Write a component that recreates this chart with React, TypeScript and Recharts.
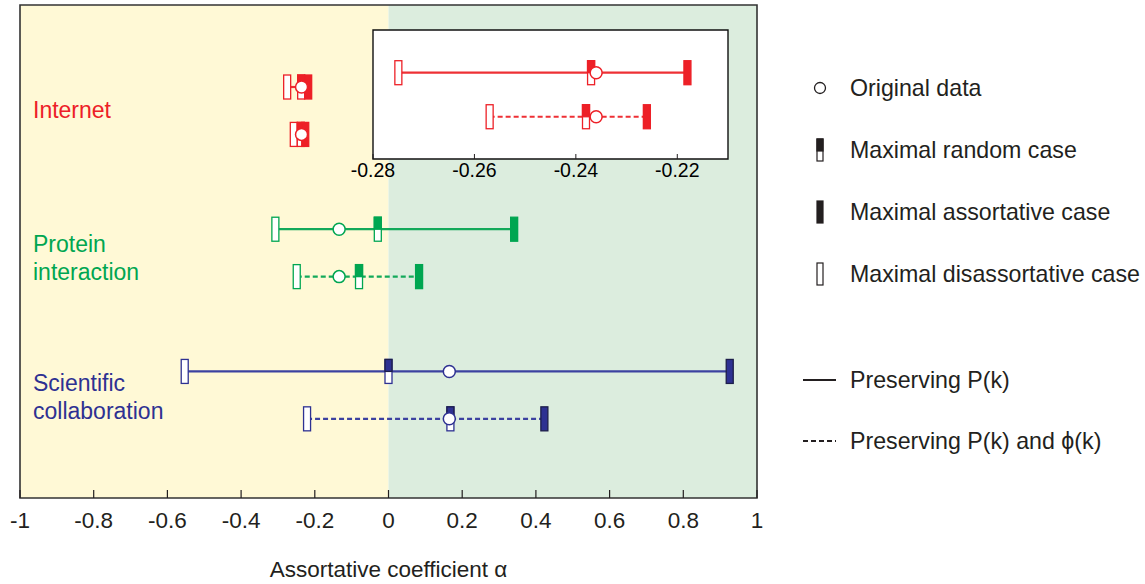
import React from "react";
import {
  ComposedChart,
  Scatter,
  XAxis,
  YAxis,
  ReferenceArea,
  Legend,
  Label,
} from "recharts";

const networks = ["Internet", "Protein interaction", "Scientific collaboration"];

// original assortative coefficient of each network
const originalAlpha = [-0.236, -0.134, 0.165];

// preserving P(k)
const pkDisassortative = [-0.275, -0.307, -0.553];
const pkRandom = [-0.237, -0.029, 0.0];
const pkAssortative = [-0.218, 0.341, 0.926];

// preserving P(k) and phi(k)
const pkPhiDisassortative = [-0.257, -0.249, -0.221];
const pkPhiRandom = [-0.238, -0.08, 0.168];
const pkPhiAssortative = [-0.226, 0.083, 0.423];

const alphaTicks = [-1, -0.8, -0.6, -0.4, -0.2, 0, 0.2, 0.4, 0.6, 0.8, 1];
const insetTicks = [-0.28, -0.26, -0.24, -0.22];

const markerLegend = [
  "Original data",
  "Maximal random case",
  "Maximal assortative case",
  "Maximal disassortative case",
];
const lineLegend = ["Preserving P(k)", "Preserving P(k) and \u03d5(k)"];
const axisTitle = "Assortative coefficient \u03b1";

const netColors = ["#ed2027", "#00a651", "#2e3192"];
const netEdges = ["#ed2027", "#00a651", "#1d1e4a"];
const netLines = ["#ee3035", "#13a95a", "#3c42a0"];

const FONT = "'Liberation Sans', Arial, Helvetica, sans-serif";
const INK = "#231f20";

type Pt = { x: number; y: number; net: number };

// row position: solid row first, dashed row below, groups 3 units apart
const rowY = (net: number, dashed: boolean) => net * 3 + (dashed ? 2 : 1);

const collect = (vals: number[], dashed: boolean, nets: number[]): Pt[] =>
  nets.map((n) => ({ x: vals[n], y: rowY(n, dashed), net: n }));

const buildRows = (nets: number[]) => {
  const lines: { data: Pt[]; net: number; dashed: boolean }[] = [];
  nets.forEach((n) => {
    [false, true].forEach((dashed) => {
      const vals = dashed
        ? [pkPhiDisassortative[n], pkPhiRandom[n], pkPhiAssortative[n], originalAlpha[n]]
        : [pkDisassortative[n], pkRandom[n], pkAssortative[n], originalAlpha[n]];
      const data = vals
        .slice()
        .sort((a, b) => a - b)
        .map((x) => ({ x, y: rowY(n, dashed), net: n }));
      lines.push({ data, net: n, dashed });
    });
  });
  return {
    lines,
    dis: [...collect(pkDisassortative, false, nets), ...collect(pkPhiDisassortative, true, nets)],
    rand: [...collect(pkRandom, false, nets), ...collect(pkPhiRandom, true, nets)],
    ass: [...collect(pkAssortative, false, nets), ...collect(pkPhiAssortative, true, nets)],
    orig: [...collect(originalAlpha, false, nets), ...collect(originalAlpha, true, nets)],
  };
};

const mainRows = buildRows([0, 1, 2]);
const insetRows = buildRows([0]);

const BW = 7;
const BH = 24;

const HollowBox = (p: any) => (
  <rect
    x={p.cx - BW / 2}
    y={p.cy - BH / 2}
    width={BW}
    height={BH}
    fill="#fff"
    stroke={netColors[p.payload.net]}
    strokeWidth={1.3}
  />
);

const RandomBox = (p: any) => (
  <g>
    <rect
      x={p.cx - BW / 2}
      y={p.cy - BH / 2}
      width={BW}
      height={BH}
      fill="#fff"
      stroke={netColors[p.payload.net]}
      strokeWidth={1.3}
    />
    <rect
      x={p.cx - BW / 2}
      y={p.cy - BH / 2}
      width={BW}
      height={BH / 2}
      fill={netColors[p.payload.net]}
      stroke={netEdges[p.payload.net]}
      strokeWidth={1.3}
    />
  </g>
);

const FullBox = (p: any) => (
  <rect
    x={p.cx - BW / 2}
    y={p.cy - BH / 2}
    width={BW}
    height={BH}
    fill={netColors[p.payload.net]}
    stroke={netEdges[p.payload.net]}
    strokeWidth={1.3}
  />
);

const OpenCircle = (p: any) => (
  <circle cx={p.cx} cy={p.cy} r={6} fill="#fff" stroke={netColors[p.payload.net]} strokeWidth={1.5} />
);

const NoShape = () => <g />;

const fmt = (v: number) => String(Number(v.toFixed(2)));

const BottomTick = (props: any) => {
  const { x, y, payload } = props;
  return (
    <g>
      <line x1={x} x2={x} y1={y} y2={y - 8} stroke={INK} strokeWidth={1.2} />
      <text x={x} y={y + 30} textAnchor="middle" fontSize={22.5} fill={INK} fontFamily={FONT}>
        {fmt(payload.value)}
      </text>
    </g>
  );
};

const TopTick = (props: any) => {
  const { x, y } = props;
  return <line x1={x} x2={x} y1={y} y2={y + 8} stroke={INK} strokeWidth={1.2} />;
};

const InsetBottomTick = (props: any) => {
  const { x, y, payload } = props;
  return (
    <g>
      <line x1={x} x2={x} y1={y} y2={y - 5} stroke={INK} strokeWidth={1} />
      <text x={x} y={y + 18} textAnchor="middle" fontSize={19.5} fill="#000" fontFamily={FONT}>
        {fmt(payload.value)}
      </text>
    </g>
  );
};

const InsetTopTick = (props: any) => {
  const { x, y } = props;
  return <line x1={x} x2={x} y1={y} y2={y + 5} stroke={INK} strokeWidth={1} />;
};

const LegendBox = () => {
  const markerShapes = [
    <circle cx={30} cy={28} r={5.5} fill="#fff" stroke={INK} strokeWidth={1.3} />,
    <g>
      <rect x={27} y={79} width={6} height={22} fill="#fff" stroke={INK} strokeWidth={1.2} />
      <rect x={27} y={79} width={6} height={12} fill={INK} stroke={INK} strokeWidth={1.2} />
    </g>,
    <rect x={27} y={141} width={6} height={22} fill={INK} stroke={INK} strokeWidth={1.2} />,
    <rect x={27} y={203} width={6} height={22} fill="#fff" stroke={INK} strokeWidth={1.2} />,
  ];
  const markerY = [28, 90, 152, 214];
  const lineY = [320, 381];
  return (
    <svg width={355} height={400} style={{ overflow: "visible" }}>
      {markerLegend.map((t, i) => (
        <g key={t}>
          {markerShapes[i]}
          <text x={60} y={markerY[i] + 8} fontSize={23.2} fill={INK} fontFamily={FONT}>
            {t}
          </text>
        </g>
      ))}
      {lineLegend.map((t, i) => (
        <g key={t}>
          <line
            x1={13}
            x2={46}
            y1={lineY[i]}
            y2={lineY[i]}
            stroke={INK}
            strokeWidth={1.8}
            strokeDasharray={i === 1 ? "5 3" : undefined}
          />
          <text x={60} y={lineY[i] + 8} fontSize={23.2} fill={INK} fontFamily={FONT}>
            {t}
          </text>
        </g>
      ))}
    </svg>
  );
};

const renderSeries = (rows: ReturnType<typeof buildRows>) => [
  ...rows.lines.map((r, i) => (
    <Scatter
      key={`line-${i}`}
      data={r.data}
      line={{
        stroke: netLines[r.net],
        strokeWidth: 2.2,
        strokeDasharray: r.dashed ? "5 3" : undefined,
      }}
      shape={NoShape}
      legendType="none"
      isAnimationActive={false}
    />
  )),
  <Scatter key="dis" data={rows.dis} shape={HollowBox} legendType="none" isAnimationActive={false} />,
  <Scatter key="rand" data={rows.rand} shape={RandomBox} legendType="none" isAnimationActive={false} />,
  <Scatter key="ass" data={rows.ass} shape={FullBox} legendType="none" isAnimationActive={false} />,
  <Scatter key="orig" data={rows.orig} shape={OpenCircle} legendType="none" isAnimationActive={false} />,
];

const netLabelLines = networks.map((n) => n.split(" "));
const labelBaselines = [[118], [252, 280], [391, 419]];

export default function App() {
  return (
    <div
      style={{
        position: "absolute",
        left: 0,
        top: 0,
        width: 1145,
        height: 584,
        background: "#fff",
        fontFamily: FONT,
      }}
    >
      <ComposedChart
        width={1145}
        height={584}
        margin={{ top: 5, right: 388, bottom: 6, left: 20 }}
      >
        <XAxis
          dataKey="x"
          type="number"
          domain={[-1, 1]}
          ticks={alphaTicks}
          interval={0}
          allowDataOverflow
          height={80}
          axisLine={false}
          tickLine={false}
          tickSize={0}
          tickMargin={0}
          tick={BottomTick}
        >
          <Label
            value={axisTitle}
            position="insideBottom"
            offset={1}
            fontSize={22.5}
            fill={INK}
            fontFamily={FONT}
          />
        </XAxis>
        <XAxis
          xAxisId="top"
          orientation="top"
          dataKey="x"
          type="number"
          domain={[-1, 1]}
          ticks={alphaTicks}
          interval={0}
          allowDataOverflow
          height={0}
          axisLine={false}
          tickLine={false}
          tickSize={0}
          tickMargin={0}
          tick={TopTick}
        />
        <YAxis dataKey="y" type="number" domain={[-0.73, 9.67]} reversed allowDataOverflow hide />
        <ReferenceArea x1={-1} x2={0} y1={-0.73} y2={9.67} fill="#fff9d6" fillOpacity={1} stroke="none" />
        <ReferenceArea x1={0} x2={1} y1={-0.73} y2={9.67} fill="#dcedde" fillOpacity={1} stroke="none" />
        {renderSeries(mainRows)}
        <ReferenceArea
          x1={-1}
          x2={1}
          y1={-0.73}
          y2={9.67}
          fill="none"
          stroke="#333"
          strokeWidth={1.6}
        />
        <Legend
          layout="vertical"
          align="center"
          verticalAlign="middle"
          wrapperStyle={{ left: 790, top: 60, width: 355, height: 400 }}
          content={() => <LegendBox />}
        />
      </ComposedChart>

      <svg
        width={1145}
        height={584}
        style={{ position: "absolute", left: 0, top: 0, pointerEvents: "none" }}
      >
        {netLabelLines.map((parts, i) =>
          parts.map((p, j) => (
            <text
              key={`${i}-${j}`}
              x={33}
              y={labelBaselines[i][j]}
              fontSize={23}
              fill={netColors[i]}
              fontFamily={FONT}
            >
              {p}
            </text>
          ))
        )}
      </svg>

      <div style={{ position: "absolute", left: 0, top: 0 }}>
        <ComposedChart width={760} height={190} margin={{ top: 30, right: 32, bottom: 0, left: 373 }}>
          <XAxis
            dataKey="x"
            type="number"
            domain={[-0.28, -0.21]}
            ticks={insetTicks}
            interval={0}
            allowDataOverflow
            height={31}
            axisLine={false}
            tickLine={false}
            tickSize={0}
            tickMargin={0}
            tick={InsetBottomTick}
          />
          <XAxis
            xAxisId="top"
            orientation="top"
            dataKey="x"
            type="number"
            domain={[-0.28, -0.21]}
            ticks={insetTicks}
            interval={0}
            allowDataOverflow
            height={0}
            axisLine={false}
            tickLine={false}
            tickSize={0}
            tickMargin={0}
            tick={InsetTopTick}
          />
          <YAxis dataKey="y" type="number" domain={[0.03, 2.96]} reversed allowDataOverflow hide />
          <ReferenceArea
            x1={-0.28}
            x2={-0.21}
            y1={0.03}
            y2={2.96}
            fill="#fff"
            fillOpacity={1}
            stroke="#111"
            strokeWidth={1.4}
          />
          {renderSeries(insetRows)}
        </ComposedChart>
      </div>
    </div>
  );
}
